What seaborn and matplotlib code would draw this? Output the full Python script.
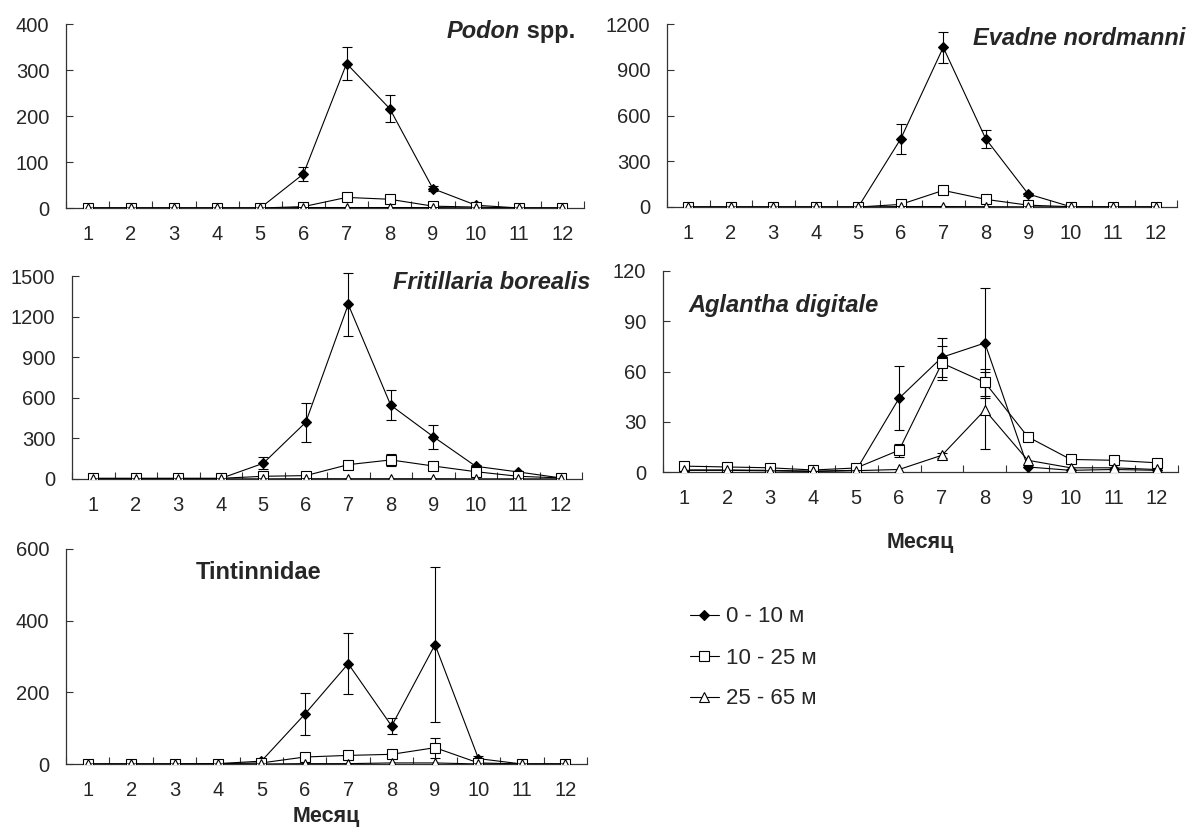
import numpy as np
import matplotlib
matplotlib.use("Agg")
import matplotlib.pyplot as plt
from matplotlib.lines import Line2D
import seaborn as sns

sns.set_style("ticks")
plt.rcParams["font.family"] = ["Liberation Sans", "DejaVu Sans"]

months = list(range(1, 13))
month_labels = [str(m) for m in months]
depth_labels = ["0 - 10 м", "10 - 25 м", "25 - 65 м"]

# Podon spp.
podon_0_10 = [0, 0, 0, 0, 0, 74, 314, 216, 42, 6, 0, 0]
podon_0_10_err = [0, 0, 0, 0, 0, 16, 35, 29, 6, 0, 0, 0]
podon_10_25 = [0, 0, 0, 0, 0, 3, 23, 19, 4, 2, 0, 0]
podon_10_25_err = [0] * 12
podon_25_65 = [0, 0, 0, 0, 0, 1, 1, 1, 1, 0, 0, 0]
podon_25_65_err = [0] * 12

# Evadne nordmanni
evadne_0_10 = [0, 0, 0, 0, 0, 447, 1047, 447, 85, 2, 0, 0]
evadne_0_10_err = [0, 0, 0, 0, 0, 97, 102, 57, 10, 0, 0, 0]
evadne_10_25 = [0, 0, 0, 0, 0, 17, 109, 50, 12, 2, 0, 0]
evadne_10_25_err = [0] * 12
evadne_25_65 = [0, 0, 0, 0, 0, 3, 3, 2, 1, 0, 0, 0]
evadne_25_65_err = [0] * 12

# Fritillaria borealis
frit_0_10 = [4, 4, 4, 4, 116, 419, 1290, 545, 313, 94, 52, 8]
frit_0_10_err = [0, 0, 0, 0, 43, 143, 234, 111, 89, 10, 8, 0]
frit_10_25 = [5, 5, 5, 5, 20, 25, 106, 141, 96, 54, 20, 8]
frit_10_25_err = [0, 0, 0, 0, 0, 0, 20, 42, 12, 0, 0, 0]
frit_25_65 = [1, 1, 1, 1, 1, 2, 2, 2, 2, 1, 1, 1]
frit_25_65_err = [0] * 12

# Aglantha digitale
agl_0_10 = [1.2, 1.2, 1.0, 0.5, 1.0, 44, 68.5, 77, 3, 1, 1.5, 1]
agl_0_10_err = [0, 0, 0, 0, 0, 19, 11.5, 33, 0, 0, 0, 0]
agl_10_25 = [3.5, 3.0, 2.5, 1.2, 2.4, 13, 65, 53.5, 21, 7.5, 7, 5.5]
agl_10_25_err = [0, 0, 0, 0, 0, 4, 10, 8, 2.5, 0, 0, 0]
agl_25_65 = [1, 1, 0.7, 0.3, 0.8, 1.5, 10, 37, 7, 2.5, 2.5, 1.5]
agl_25_65_err = [0, 0, 0, 0, 0, 0, 1.5, 23, 0, 0, 0, 0]

# Tintinnidae
tint_0_10 = [0, 0, 0, 1, 8, 139, 280, 106, 333, 15, 0, 0]
tint_0_10_err = [0, 0, 0, 0, 0, 58, 85, 23, 216, 8, 0, 0]
tint_10_25 = [0, 0, 0, 1, 3, 19.5, 24, 27, 45.6, 3, 0, 0]
tint_10_25_err = [0, 0, 0, 0, 0, 0, 0, 0, 28, 0, 0, 0]
tint_25_65 = [0, 0, 0, 0, 0, 1, 1, 3, 3, 0, 0, 0]
tint_25_65_err = [0] * 12

W, H = 1188, 831
fig = plt.figure(figsize=(W / 100, H / 100), dpi=100)

TICK_FS = 14.5
TITLE_FS = 17


def frame(left, top, right, bottom):
    return [left / W, 1 - bottom / H, (right - left) / W, (bottom - top) / H]


styles = [
    dict(marker="D", markerfacecolor="black", markersize=5),
    dict(marker="s", markerfacecolor="white", markersize=6.5),
    dict(marker="^", markerfacecolor="white", markersize=7),
]


def panel(rect, series, ymax, ystep, title, title_xy, italic=True,
          xlabel=None, xlabelpad=10, title_parts=None):
    ax = fig.add_axes(frame(*rect))
    for (vals, errs), st in zip(series, styles):
        vals = np.asarray(vals, float)
        errs = np.asarray(errs, float)
        sel = errs > 0
        if sel.any():
            eb = ax.errorbar(np.array(months)[sel], vals[sel], yerr=errs[sel],
                             fmt="none", ecolor="black", elinewidth=0.8,
                             capsize=3.5, capthick=0.8, zorder=2)
            for art in eb.lines[1] + eb.lines[2]:
                art.set_clip_on(False)
        sns.lineplot(x=months, y=vals, ax=ax, color="black", linewidth=0.8,
                     markeredgecolor="black", markeredgewidth=0.8, zorder=3,
                     **st)
    ax.set_xlim(0.5, 12.5)
    ax.set_ylim(0, ymax)
    ax.set_yticks(np.arange(0, ymax + 1, ystep))
    ax.set_xticks(months)
    ax.set_xticklabels(month_labels)
    ax.set_xticks(np.arange(0.5, 13, 1), minor=True)
    ax.tick_params(axis="x", which="major", length=0, pad=12.5,
                   labelsize=TICK_FS)
    ax.tick_params(axis="x", which="minor", direction="in", length=5,
                   width=0.8, color="#333333")
    ax.tick_params(axis="y", direction="in", length=5, width=0.8,
                   color="#333333", pad=12, labelsize=TICK_FS)
    for s in ("top", "right"):
        ax.spines[s].set_visible(False)
    for s in ("left", "bottom"):
        ax.spines[s].set_color("#333333")
        ax.spines[s].set_linewidth(0.9)
    ax.set_ylabel("")
    if xlabel:
        ax.set_xlabel(xlabel, fontsize=15.5, fontweight="bold",
                      labelpad=xlabelpad)
    else:
        ax.set_xlabel("")
    if title_parts:
        # italic genus followed by an upright part
        t = ax.text(title_xy[0], title_xy[1], title_parts[0],
                    transform=ax.transAxes, ha="left", va="center",
                    fontsize=TITLE_FS, fontweight="bold", fontstyle="italic")
        fig.canvas.draw()
        bb = t.get_window_extent()
        x_end = ax.transAxes.inverted().transform((bb.x1, bb.y0))[0]
        ax.text(x_end, title_xy[1], title_parts[1], transform=ax.transAxes,
                ha="left", va="center", fontsize=TITLE_FS, fontweight="bold")
    else:
        ax.text(title_xy[0], title_xy[1], title, transform=ax.transAxes,
                ha="left", va="center", fontsize=TITLE_FS, fontweight="bold",
                fontstyle="italic" if italic else "normal")
    return ax


panel((66, 24, 584, 208),
      [(podon_0_10, podon_0_10_err), (podon_10_25, podon_10_25_err),
       (podon_25_65, podon_25_65_err)],
      400, 100, None, (0.735, 0.958),
      title_parts=("Podon", " spp."))

panel((667, 24, 1177, 207),
      [(evadne_0_10, evadne_0_10_err), (evadne_10_25, evadne_10_25_err),
       (evadne_25_65, evadne_25_65_err)],
      1200, 300, "Evadne nordmanni", (0.60, 0.92))

panel((72, 276, 582, 479),
      [(frit_0_10, frit_0_10_err), (frit_10_25, frit_10_25_err),
       (frit_25_65, frit_25_65_err)],
      1500, 300, "Fritillaria borealis", (0.63, 0.97))

panel((663, 271, 1178, 472),
      [(agl_0_10, agl_0_10_err), (agl_10_25, agl_10_25_err),
       (agl_25_65, agl_25_65_err)],
      120, 30, "Aglantha digitale", (0.05, 0.826),
      xlabel="Месяц", xlabelpad=17)

panel((66, 549, 587, 764),
      [(tint_0_10, tint_0_10_err), (tint_10_25, tint_10_25_err),
       (tint_25_65, tint_25_65_err)],
      600, 200, "Tintinnidae", (0.25, 0.89), italic=False,
      xlabel="Месяц", xlabelpad=4)

handles = [Line2D([0], [0], color="black", linewidth=0.8,
                  markeredgecolor="black", markeredgewidth=0.8, **st)
           for st in styles]
fig.legend(handles, depth_labels, loc="center left",
           bbox_to_anchor=(690 / W, 1 - 658 / H), frameon=False,
           fontsize=16, handlelength=1.3, handletextpad=0.33,
           labelspacing=0.9, borderaxespad=0, borderpad=0)

fig.savefig("out.png", dpi=100)
